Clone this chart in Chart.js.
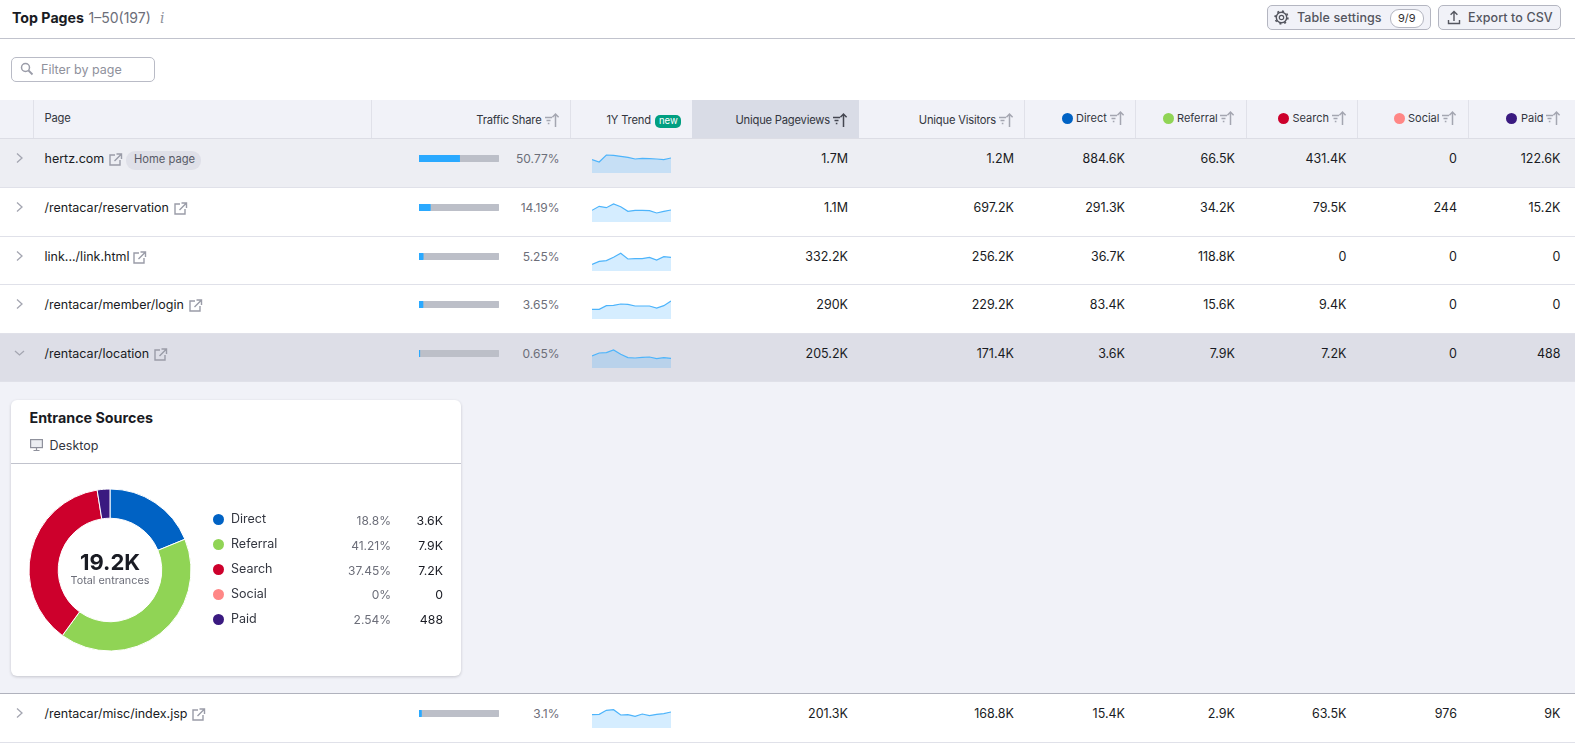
<!DOCTYPE html>
<html><head><meta charset="utf-8">
<script src="https://cdn.jsdelivr.net/npm/chart.js@4"></script>
<style>
html,body{margin:0;padding:0;background:#fff}
#page{position:relative;width:1575px;height:746px;overflow:hidden;font-family:Inter,"Noto Sans",sans-serif;font-size:12.5px;color:#191b23}
.a{position:absolute;white-space:nowrap}
.t{position:absolute;white-space:nowrap;line-height:18px;height:18px}
canvas{position:absolute;display:block}
svg{position:absolute;overflow:visible}
</style></head><body><div id="page"></div>
<script>
// ---------- data ----------
const pages = ["hertz.com","/rentacar/reservation","link.../link.html","/rentacar/member/login","/rentacar/location","/rentacar/misc/index.jsp"];
const shareLabels = ["50.77%","14.19%","5.25%","3.65%","0.65%","3.1%"];
const shareBar = [50.77,14.19,5.25,5,1,3.1];
const uniquePageviews = ["1.7M","1.1M","332.2K","290K","205.2K","201.3K"];
const uniqueVisitors = ["1.2M","697.2K","256.2K","229.2K","171.4K","168.8K"];
const direct = ["884.6K","291.3K","36.7K","83.4K","3.6K","15.4K"];
const referral = ["66.5K","34.2K","118.8K","15.6K","7.9K","2.9K"];
const search = ["431.4K","79.5K","0","9.4K","7.2K","63.5K"];
const social = ["0","244","0","0","0","976"];
const paid = ["122.6K","15.2K","0","0","488","9K"];
const trendMonths = ["1","2","3","4","5","6","7","8","9","10","11","12"];
const trendHertz = [40,33,54,53,50,47,42,44,43,42,40,45];
const trendReservation = [35,47,43,54,46,32,35,35,34,27,32,36];
const trendLink = [20,29,31,41,53,36,37,37,41,33,43,41];
const trendLogin = [29,29,40,41,45,44,39,39,39,33,40,54];
const trendLocation = [36,45,46,54,41,31,30,32,33,28,31,29];
const trendMisc = [40,41,53,55,39,40,35,42,37,41,43,48];
const sourceNames = ["Direct","Referral","Search","Social","Paid"];
const sourceColors = ["#0062c4","#90d455","#cd002c","#ff8786","#3a1a80"];
const sourceShares = [18.8,41.21,37.45,0,2.54];
const sourcePctLabels = ["18.8%","41.21%","37.45%","0%","2.54%"];
const sourceValueLabels = ["3.6K","7.9K","7.2K","0","488"];

// ---------- helpers ----------
const page = document.getElementById('page');
function box(x,y,w,h,css){const d=document.createElement('div');d.className='a';d.style.cssText+=`left:${x}px;top:${y}px;width:${w}px;height:${h}px;${css||''}`;page.appendChild(d);return d;}
function txtL(s,x,cy,css){const d=document.createElement('div');d.className='t';d.textContent=s;d.style.cssText+=`left:${x}px;top:${cy-9}px;${css||''}`;page.appendChild(d);return d;}
function txtR(s,r,cy,css){const d=document.createElement('div');d.className='t';d.textContent=s;d.style.cssText+=`right:${1575-r}px;top:${cy-9}px;${css||''}`;page.appendChild(d);return d;}
function icon(x,y,w,h,inner){const n='http://www.w3.org/2000/svg';const s=document.createElementNS(n,'svg');s.setAttribute('width',w);s.setAttribute('height',h);s.setAttribute('viewBox',`0 0 ${w} ${h}`);s.style.left=x+'px';s.style.top=y+'px';s.innerHTML=inner;page.appendChild(s);return s;}
function canvas(x,y,w,h){const c=document.createElement('canvas');c.width=w;c.height=h;c.style.cssText=`left:${x}px;top:${y}px;width:${w}px;height:${h}px`;page.appendChild(c);return c;}
function sortIcon(r,cy,col){const c=col||'#a4a6b1';icon(r-15,cy-8,14,16,
 `<path d="M0 5.5h7M1.5 8.5h4M2.8 11.5h1.6" stroke="${c}" stroke-width="1.3" fill="none"/><path d="M10.5 15V2M7.4 5.2L10.5 2l3.1 3.2" stroke="${c}" stroke-width="1.5" fill="none"/>`);}
function linkIcon(x,cy){icon(x,cy-6,13,13,`<path d="M6 2H1v10h10V7M7.5 1h5v5M12.5 1L5.5 8" stroke="#9a9ca8" stroke-width="1.4" fill="none"/>`);}
function chevron(cy,down){const c='#a4a6b1';icon(15,cy-6,10,12,down?`<path d="M0 4l4.5 4L9 4" stroke="${c}" stroke-width="1.3" fill="none"/>`:`<path d="M2 1.5L7 6l-5 4.5" stroke="${c}" stroke-width="1.3" fill="none"/>`);}

// ---------- top bar ----------
txtL("Top Pages",12,18,"font-weight:700;font-size:14.2px");
txtL("1–50(197)",88.5,18,"font-size:14px;color:#6c6e79");
txtL("i",160,18,"font-size:14px;color:#8f919c;font-style:italic;font-family:'DejaVu Serif'");
box(0,38,1575,1,"background:#c1c3cd");

function btn(x,w){box(x,5,w,23,"background:#f1f2f8;border:1px solid #b4b6c1;border-radius:5px;box-sizing:content-box");}
btn(1267,162);btn(1438,121);
icon(1274,10,15,15,`<circle cx="7.5" cy="7.5" r="2.2" stroke="#54565f" stroke-width="1.2" fill="none"/><circle cx="7.5" cy="7.5" r="5.2" stroke="#54565f" stroke-width="1.4" fill="none"/><circle cx="7.5" cy="7.5" r="6.4" stroke="#54565f" stroke-width="1.6" stroke-dasharray="2 3" fill="none"/>`);
txtL("Table settings",1297,17.5,"font-size:12.5px;font-weight:500;color:#54565f;letter-spacing:.1px");
box(1389.5,8.5,32,17,"border:1px solid #b4b6c1;border-radius:9px;background:#fff");
txtL("9/9",1398,17.5,"font-size:11px;color:#333");
icon(1447,10,14,15,`<path d="M7 11V1.5M3.6 4.8L7 1.5l3.4 3.3M1.5 10v3.5h11V10" stroke="#54565f" stroke-width="1.4" fill="none"/>`);
txtL("Export to CSV",1468,17.5,"font-size:12.5px;font-weight:500;color:#54565f;letter-spacing:.1px");

// ---------- filter ----------
box(11,57,142,23,"border:1px solid #b9bbc6;border-radius:5px");
icon(20,62,14,14,`<circle cx="5.5" cy="5.5" r="4" stroke="#9a9ca8" stroke-width="1.5" fill="none"/><path d="M8.5 8.5l4 4" stroke="#9a9ca8" stroke-width="1.8"/>`);
txtL("Filter by page",41,69.5,"font-size:12.5px;color:#8f919c");

// ---------- header ----------
box(0,100,1575,39,"background:#f1f2f8");
box(692,100,167,39,"background:#d9dce6");
[33,371,570,1024,1135,1246,1357,1468].forEach(x=>box(x,100,1,39,"background:#e0e1e9"));
const hs="font-size:11.2px;letter-spacing:-.2px;color:#333640";
txtL("Page",44.5,118,hs);
txtR("Traffic Share",541.5,119.5,hs);sortIcon(559.5,120);
txtL("1Y Trend",606.5,119.5,hs);
box(655,115,26,13,"background:#009f81;border-radius:5px");
txtL("new",659,121,"font-size:9.5px;color:#fff");
txtR("Unique Pageviews",830,119.5,hs);sortIcon(848,120,'#444650');
txtR("Unique Visitors",996,119.5,hs);sortIcon(1014,120);
const headDots=[[1067,1076,1125],[1168,1177,1235],[1283,1292.5,1346.5],[1399,1408,1457],[1511.5,1521,1561]];
sourceNames.forEach((n,i)=>{const [dx,tx,r]=headDots[i];
 box(dx-5.5,112.5,11,11,`border-radius:50%;background:${sourceColors[i]}`);
 txtL(n,tx,117.5,"font-size:11px;color:#333640");sortIcon(r,118);});

// ---------- rows ----------
const rowTop=[139,188,237,285,334,694];
const rowH=[49,49,48,49,48,49];
const rowBg=["#edeef3","#fff","#fff","#fff","#dddee7","#fff"];
const linkX=[108.5,173.5,132.5,188.5,153.5,191.5];
const trends=[trendHertz,trendReservation,trendLink,trendLogin,trendLocation,trendMisc];
box(0,382,1575,311,"background:#f1f2f8");
box(0,693,1575,1,"background:#b0b2bd");
box(0,138,1575,1,"background:#dcdde5");
pages.forEach((p,i)=>{
 const y=rowTop[i],h=rowH[i],cy=y+19.5;
 box(0,y,1575,h,`background:${rowBg[i]}`);
 box(0,y+h-1,1575,1,"background:#e0e1e9");
 chevron(cy-.5,i==4);
 txtL(p,44.5,cy);
 linkIcon(linkX[i],cy);
 txtR(shareLabels[i],559.5,cy,"color:#6c6e79;font-size:12px");
 txtR(uniquePageviews[i],848,cy);
 txtR(uniqueVisitors[i],1014,cy);
 txtR(direct[i],1125,cy);
 txtR(referral[i],1235,cy);
 txtR(search[i],1346.5,cy);
 txtR(social[i],1457,cy);
 txtR(paid[i],1560.5,cy);
 // share bar
 new Chart(canvas(419,y+16,80,7),{type:'bar',
  data:{labels:[p],datasets:[
   {data:[shareBar[i]],backgroundColor:'#2aa9ff',borderRadius:2,borderSkipped:false,barPercentage:1,categoryPercentage:1},
   {data:[100-shareBar[i]],backgroundColor:'#bcbfc8',borderRadius:2,borderSkipped:false,barPercentage:1,categoryPercentage:1}]},
  options:{indexAxis:'y',responsive:false,animation:false,events:[],layout:{padding:0},
   plugins:{legend:{display:false},tooltip:{enabled:false}},
   scales:{x:{display:false,stacked:true,min:0,max:100},y:{display:false,stacked:true}}}});
 // trend sparkline
 new Chart(canvas(592,y+14,79,20),{type:'line',
  data:{labels:trendMonths,datasets:[{data:trends[i],borderColor:'#4db4fb',borderWidth:1.2,
    backgroundColor:'rgba(45,165,255,.2)',fill:true,pointRadius:0,tension:0}]},
  options:{responsive:false,animation:false,events:[],layout:{padding:0},
   plugins:{legend:{display:false},tooltip:{enabled:false}},
   scales:{x:{display:false},y:{display:false,min:0,max:60}}}});
});
// home page pill
box(126,151,75,18.5,"background:#dfe0e8;border-radius:9px");
txtL("Home page",134,159,"font-size:11.2px;color:#575a66");

// ---------- card ----------
box(11,400,450,276,"background:#fff;border-radius:6px;box-shadow:0 1px 3px rgba(25,27,35,.2)");
txtL("Entrance Sources",29.5,418,"font-size:14.3px;font-weight:700");
icon(30,439,13,12,`<rect x=".6" y=".6" width="11.8" height="8" stroke="#8f919c" stroke-width="1.2" fill="#eceef2"/><path d="M3.5 11.5h6M6.5 9v2.5" stroke="#8f919c" stroke-width="1.2"/>`);
txtL("Desktop",49.5,445.5,"font-size:12.5px;color:#333640");
box(11,463,450,1,"background:#c1c3cd");
new Chart(canvas(25,485,170,170),{type:'doughnut',
 data:{labels:sourceNames,datasets:[{data:sourceShares,backgroundColor:sourceColors,borderColor:'#fff',borderWidth:1}]},
 options:{responsive:false,animation:false,events:[],radius:81,cutout:54,layout:{padding:0},
  plugins:{legend:{display:false},tooltip:{enabled:false}}}});
box(30,552,160,20,"text-align:center;font-size:22px;font-weight:700;line-height:20px").textContent="19.2K";
box(30,572,160,18,"text-align:center;font-size:10.8px;color:#6c6e79;line-height:18px").textContent="Total entrances";
const legY=[519,544,569,594,619],legVY=[520.5,545.5,570.5,594.5,619.5];
sourceNames.forEach((n,i)=>{
 box(212.5,legY[i]-5.5,11,11,`border-radius:50%;background:${sourceColors[i]}`);
 txtL(n,231,legY[i]-.5,"color:#333640");
 txtR(sourcePctLabels[i],391,legVY[i],"color:#6c6e79;font-size:12px");
 txtR(sourceValueLabels[i],443,legVY[i],"font-size:12.3px");
});
</script></body></html>
